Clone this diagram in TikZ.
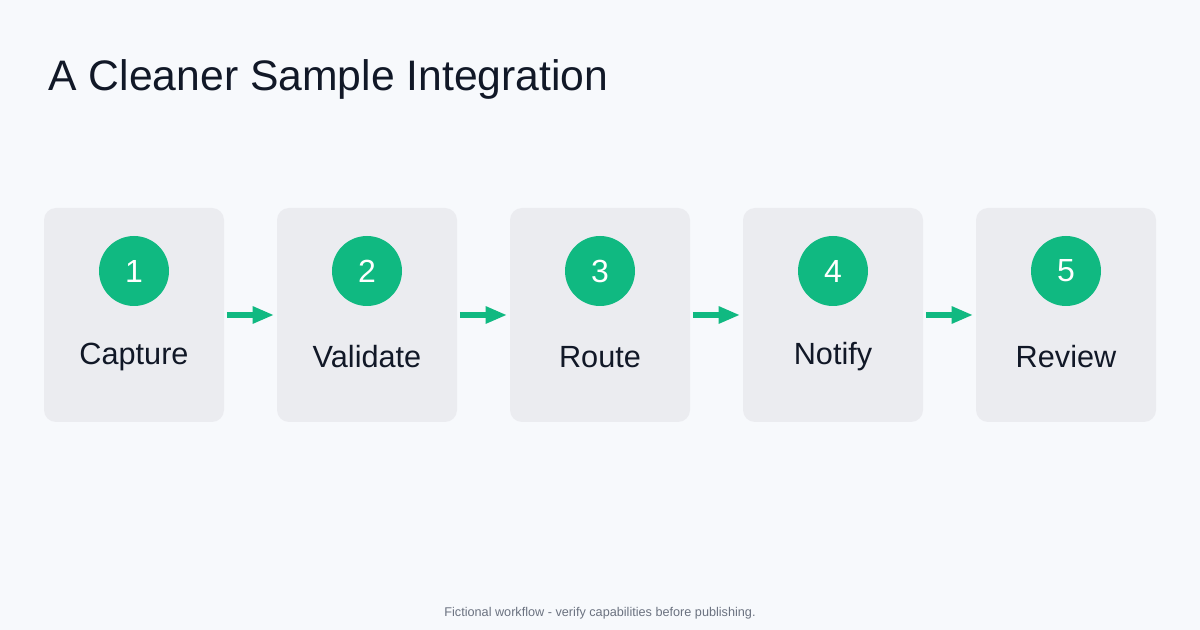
\documentclass[tikz,border=0pt]{standalone}
\usepackage{fontspec}
\setmainfont{Liberation Sans}
\usetikzlibrary{arrows.meta}
\definecolor{bgcol}{HTML}{F7F9FC}
\definecolor{boxcol}{HTML}{EBECF0}
\definecolor{greencol}{HTML}{10B981}
\definecolor{inkcol}{HTML}{111827}
\definecolor{footcol}{HTML}{6B7280}
\begin{document}
\begin{tikzpicture}[x=0.75pt, y=-0.75pt,
  stepbox/.style = {fill=boxcol, rounded corners=9pt, minimum width=135pt, minimum height=160.5pt, inner sep=0pt},
  badge/.style = {circle, fill=greencol, minimum size=52.5pt, inner sep=0pt, text=white, font=\fontsize{24}{24}\selectfont},
  steplabel/.style = {text=inkcol, font=\fontsize{23}{23}\selectfont},
  flow/.style = {greencol, line width=4.5pt, -{Triangle[length=16pt, width=12pt]}, shorten <=2pt, shorten >=2pt}]
\fill[bgcol] (0,0) rectangle (1200,630);
\node[anchor=base west, text=inkcol, font=\fontsize{32}{32}\selectfont] (title) at (44,91) {A Cleaner Sample Integration};
% five steps
\foreach \i/\name in {1/Capture, 2/Validate, 3/Route, 4/Notify, 5/Review} {
  \node[stepbox] (box\i) at ({134+233*(\i-1)}, 315) {};
  \node[badge] (num\i) at ({134+233*(\i-1)}, 271) {\i};
  \node[steplabel] (lab\i) at ({134+233*(\i-1)}, 357) {\name};
}
\foreach \i [evaluate=\i as \j using int(\i+1)] in {1,...,4}
  \draw[flow] (box\i.east) -- (box\j.west);
\node[text=footcol, font=\fontsize{9.5}{9.5}\selectfont] (foot) at (600,613) {Fictional workflow - verify capabilities before publishing.};
\end{tikzpicture}
\end{document}
